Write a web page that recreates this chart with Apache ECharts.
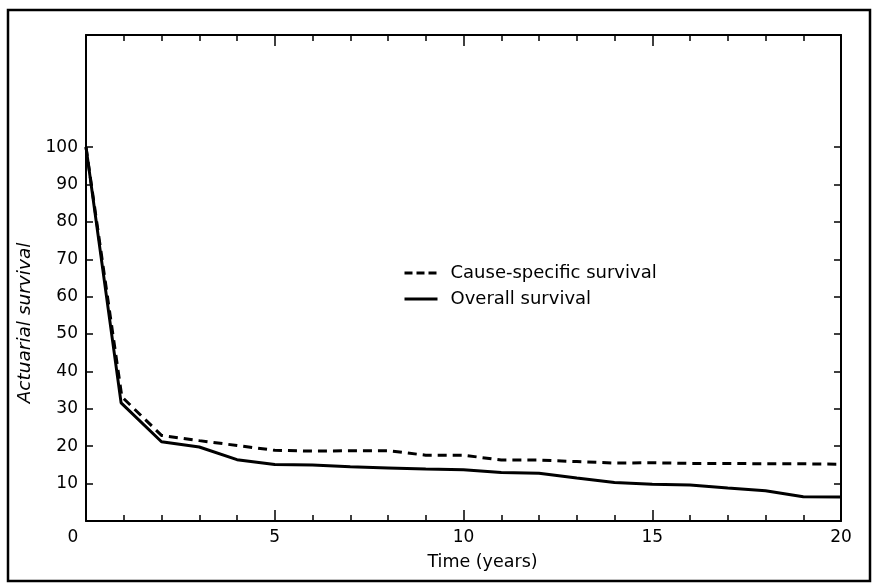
<!DOCTYPE html>
<html>
<head>
<meta charset="utf-8">
<script src="https://cdn.jsdelivr.net/npm/echarts@6/dist/echarts.min.js"></script>
<style>
html,body{margin:0;padding:0;background:#fff;}
#chart{width:873px;height:584px;}
</style>
</head>
<body>
<div id="chart"></div>
<script>
// Data
const causeYears = [0, 0.95, 2, 3, 4, 5, 6, 7, 8, 9, 10, 11, 12, 13, 14, 15, 16, 17, 18, 19, 20];
const causeSpecific = [100, 33.2, 22.9, 21.5, 20.2, 18.9, 18.7, 18.8, 18.8, 17.6, 17.6, 16.3, 16.3, 15.9, 15.5, 15.6, 15.4, 15.4, 15.3, 15.3, 15.2];
const overallYears = [0, 0.93, 2, 3, 4, 5, 6, 7, 8, 9, 10, 11, 12, 13, 14, 15, 16, 17, 18, 19, 20];
const overall = [100, 31.6, 21.2, 19.8, 16.4, 15.1, 15.0, 14.5, 14.2, 13.9, 13.7, 13.0, 12.8, 11.5, 10.3, 9.8, 9.6, 8.8, 8.1, 6.5, 6.4];
const xLabels = [0, 5, 10, 15, 20];
const yLabels = [10, 20, 30, 40, 50, 60, 70, 80, 90, 100];
const seriesNames = ['Cause-specific survival', 'Overall survival'];

const FONT = 'DejaVu Sans';
const chart = echarts.init(document.getElementById('chart'), null, {renderer: 'canvas'});

function xAxisDef(pos, showLabels) {
  return {
    type: 'value', position: pos, min: 0, max: 20, interval: 5,
    axisLine: {show: true, onZero: false, lineStyle: {color: '#000', width: 2}},
    axisTick: {show: true, inside: true, length: 11, lineStyle: {color: '#000', width: 1.5}},
    minorTick: {show: true, splitNumber: 5, length: 6, lineStyle: {color: '#000', width: 1.5}},
    splitLine: {show: false}, minorSplitLine: {show: false},
    axisLabel: showLabels ? {
      show: true, customValues: xLabels, margin: 8, color: '#000', fontFamily: FONT, fontSize: 17,
      formatter: v => v === 0 ? '{z|0}' : String(v),
      rich: {z: {padding: [0, 26, 0, 0], fontFamily: FONT, fontSize: 17, color: '#000'}}
    } : {show: false},
    name: showLabels ? 'Time (years)' : '', nameLocation: 'middle', nameGap: 32,
    nameTextStyle: {color: '#000', fontFamily: FONT, fontSize: 17.5, padding: [0, 0, 0, 38]}
  };
}
function yAxisDef(pos, showLabels) {
  return {
    type: 'value', position: pos, min: 0, max: 130, interval: 10,
    axisLine: {show: true, onZero: false, lineStyle: {color: '#000', width: 2}},
    axisTick: {show: true, inside: true, length: 7, customValues: yLabels, lineStyle: {color: '#000', width: 1.5}},
    splitLine: {show: false},
    axisLabel: showLabels ? {show: true, customValues: yLabels, margin: 8, color: '#000', fontFamily: FONT, fontSize: 17} : {show: false},
    name: showLabels ? 'Actuarial survival' : '', nameLocation: 'middle', nameGap: 46,
    nameTextStyle: {color: '#000', fontFamily: FONT, fontSize: 18.5, fontStyle: 'italic', padding: [0, 90, 0, 0]}
  };
}

chart.setOption({
  animation: false,
  backgroundColor: '#fff',
  grid: {left: 86, right: 32, top: 35, bottom: 63, containLabel: false},
  xAxis: [xAxisDef('bottom', true), xAxisDef('top', false)],
  yAxis: [yAxisDef('left', true), yAxisDef('right', false)],
  legend: {
    orient: 'vertical', left: 398, top: 259, itemWidth: 33, itemHeight: 14, itemGap: 8,
    data: [
      {name: seriesNames[0], lineStyle: {type: [8, 4], width: 3, color: '#000'}},
      {name: seriesNames[1], lineStyle: {type: 'solid', width: 3, color: '#000'}}
    ],
    itemStyle: {opacity: 0, borderWidth: 0},
    lineStyle: {width: 3, color: '#000'},
    textStyle: {color: '#000', fontFamily: FONT, fontSize: 18, padding: [0, 0, 0, 8]}
  },
  graphic: [{
    type: 'rect', shape: {x: 8, y: 10, width: 862, height: 571},
    style: {fill: 'none', stroke: '#000', lineWidth: 2.5}, silent: true, z: 100
  }],
  series: [
    {
      name: seriesNames[0], type: 'line', xAxisIndex: 0, yAxisIndex: 0,
      data: causeYears.map((x, i) => [x, causeSpecific[i]]),
      showSymbol: false, symbol: 'none',
      lineStyle: {color: '#000', width: 3, type: [9, 6]}, itemStyle: {color: '#000'}
    },
    {
      name: seriesNames[1], type: 'line', xAxisIndex: 0, yAxisIndex: 0,
      data: overallYears.map((x, i) => [x, overall[i]]),
      showSymbol: false, symbol: 'none',
      lineStyle: {color: '#000', width: 3, type: 'solid'}, itemStyle: {color: '#000'}
    }
  ]
});
</script>
</body>
</html>
